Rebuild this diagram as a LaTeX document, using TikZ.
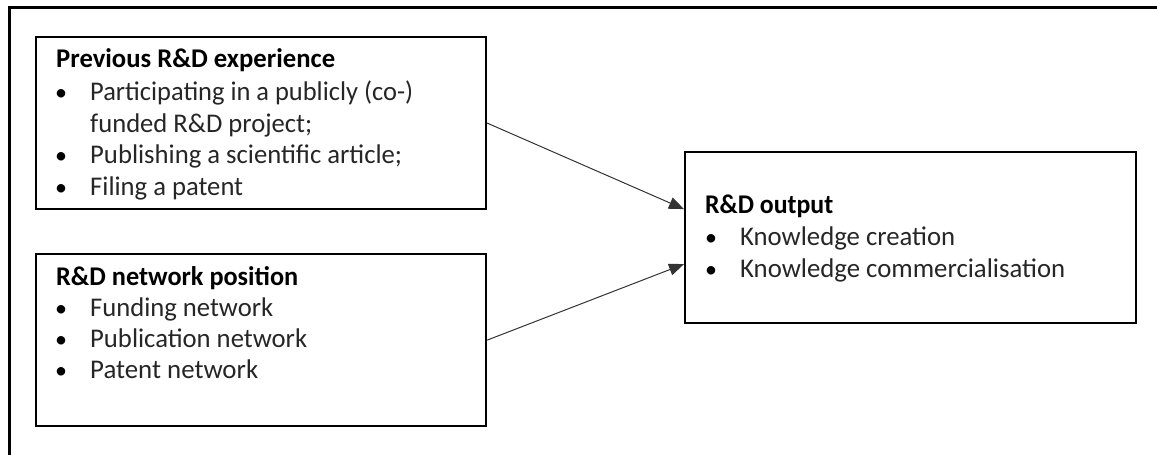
\documentclass[tikz,border=0pt]{standalone}
\usepackage{fontspec}
\usepackage{graphicx}
\setmainfont{Carlito}
\usetikzlibrary{arrows.meta,calc}
\newcommand\fitto[2]{\resizebox{#1pt}{\height}{#2}}
\begin{document}
\begin{tikzpicture}[x=1pt,y=-1pt,
  box/.style={draw=black,line width=2.2pt,inner sep=0pt,anchor=north west},
  txt/.style={anchor=base west,inner sep=0pt,font=\fontsize{27}{31}\selectfont,text=black!85},
  ttl/.style={txt,font=\fontsize{27}{31}\selectfont\bfseries,text=black},
  bul/.style={anchor=base,inner sep=0pt,font=\fontsize{24}{31}\selectfont},
  arr/.style={draw=black!80,line width=1pt,-{Triangle[length=15pt,width=12pt]}},
  frame/.style={draw=black,line width=3pt}]
\useasboundingbox (0,0) rectangle (1157,455);
% outer frame (top and left edges)
\coordinate (ftr) at (1157,7.5);
\coordinate (ftl) at (9,7.5);
\coordinate (fbl) at (9,455);
\draw[frame] (ftr) -- (ftl) -- (fbl);
% boxes
\node[box,minimum width=450pt,minimum height=172pt] (b1) at (35,36) {};
\node[box,minimum width=450pt,minimum height=172pt] (b2) at (35,253) {};
\node[box,minimum width=451pt,minimum height=171pt] (b3) at (684,151) {};
% box 1 text
\node[ttl] (t1) at (56,67) {\fitto{279}{Previous R\&D experience}};
\node[bul] (p1) at (61,100) {\textbullet};
\node[txt] (l1) at (90,100) {\fitto{323}{Participating in a publicly (co-)}};
\node[txt] (l2) at (90,132) {\fitto{222}{funded R\&D project;}};
\node[bul] (p2) at (61,163) {\textbullet};
\node[txt] (l3) at (90,163) {\fitto{312}{Publishing a scientific article;}};
\node[bul] (p3) at (61,195) {\textbullet};
\node[txt] (l4) at (90,195) {\fitto{153}{Filing a patent}};
% box 2 text
\node[ttl] (t2) at (56,285) {\fitto{242}{R\&D network position}};
\node[bul] (q1) at (61,316) {\textbullet};
\node[txt] (m1) at (90,316) {\fitto{183}{Funding network}};
\node[bul] (q2) at (61,347) {\textbullet};
\node[txt] (m2) at (90,347) {\fitto{217}{Publication network}};
\node[bul] (q3) at (61,378) {\textbullet};
\node[txt] (m3) at (90,378) {\fitto{168}{Patent network}};
% box 3 text
\node[ttl] (t3) at (705,213) {\fitto{128}{R\&D output}};
\node[bul] (r1) at (711,245) {\textbullet};
\node[txt] (n1) at (740,245) {\fitto{215}{Knowledge creation}};
\node[bul] (r2) at (711,277) {\textbullet};
\node[txt] (n2) at (740,277) {\fitto{325}{Knowledge commercialisation}};
% arrows
\coordinate (e1) at ($(b3.west)+(0,-28.5)$);
\coordinate (e2) at ($(b3.west)+(0,26.5)$);
\draw[arr] (b1.east) -- (e1);
\draw[arr] (b2.east) -- (e2);
\end{tikzpicture}
\end{document}
